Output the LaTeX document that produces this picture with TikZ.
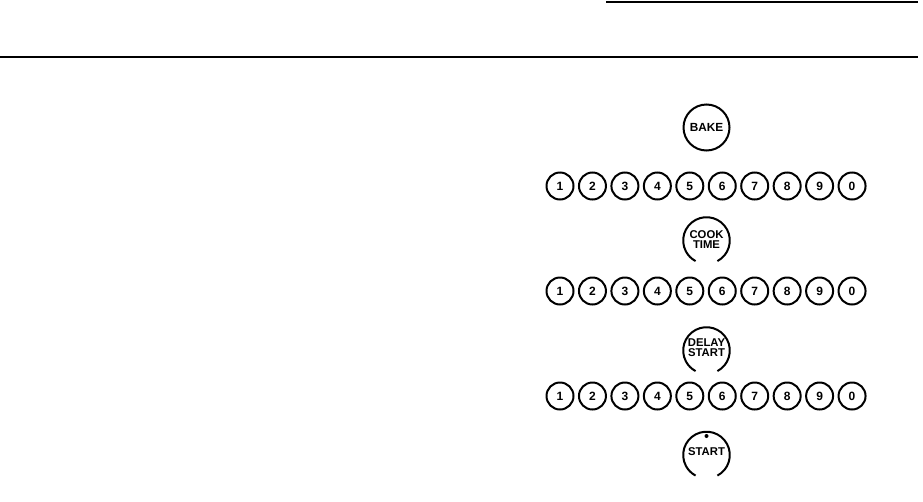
\documentclass[tikz,border=0pt]{standalone}
\usepackage{fontspec}
\setmainfont{Liberation Sans}
\begin{document}
\begin{tikzpicture}[x=1pt,y=1pt,
  digitkey/.style={circle,draw,line width=2pt,minimum size=27pt,inner sep=0pt,
    font=\fontsize{12}{12}\selectfont\bfseries},
  bigkey/.style={circle,draw,line width=2pt,minimum size=46pt,inner sep=0pt,
    font=\fontsize{11.8}{11.8}\selectfont\bfseries},
  keylabel/.style={align=center,inner sep=0pt,
    font=\fontsize{11.3}{10.6}\selectfont\bfseries},
  openring/.style={line width=2pt},
  rule/.style={line width=2pt}]
\useasboundingbox (0,0) rectangle (923,-501);
% rules
\coordinate (t1) at (606,-2);
\coordinate (t2) at (918,-2);
\coordinate (h1) at (0,-57);
\coordinate (h2) at (918,-57);
\draw[rule] (t1) -- (t2);
\draw[rule] (h1) -- (h2);
% BAKE
\node[bigkey] (bake) at (706.5,-127.5) {BAKE};
% digit rows
\foreach \r/\yy in {a/186,b/291,c/396}{
  \foreach \d [count=\i from 0] in {1,2,3,4,5,6,7,8,9,0}{
    \node[digitkey] (\r\d) at ({560+32.45*\i},-\yy) {\d};
  }
}
% COOK TIME
\coordinate (cook) at (706.5,-240.5);
\node[keylabel] (cooktxt) at (706.5,-239.5) {COOK\\TIME};
\draw[openring] (cook) ++(-62:23.3) arc[start angle=-62,end angle=242,radius=23.3];
% DELAY START
\coordinate (delay) at (706.5,-350.5);
\node[keylabel] (delaytxt) at (706.5,-347.5) {DELAY\\START};
\draw[openring] (delay) ++(-62:23.3) arc[start angle=-62,end angle=242,radius=23.3];
% START
\coordinate (start) at (706.5,-455);
\node[keylabel] (starttxt) at (706.5,-452) {START};
\node[circle,fill,inner sep=0pt,minimum size=4pt] (dot) at (706.5,-436) {};
\draw[openring] (start) ++(-62:23.3) arc[start angle=-62,end angle=242,radius=23.3];
\end{tikzpicture}
\end{document}
